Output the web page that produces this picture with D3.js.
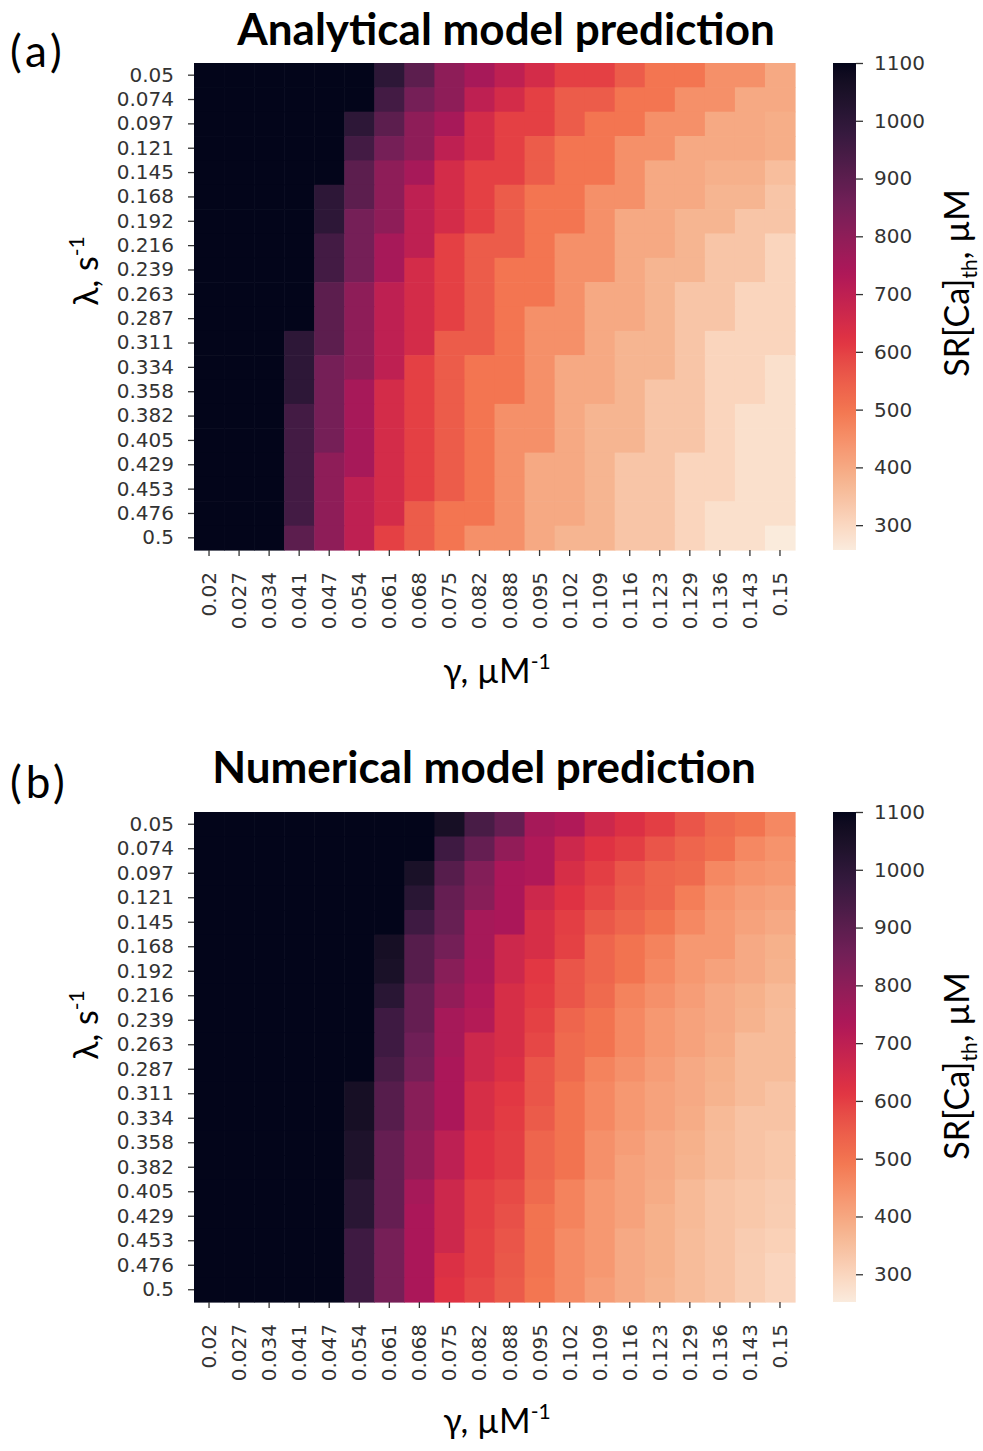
<!DOCTYPE html>
<html>
<head>
<meta charset="utf-8">
<script src="https://cdn.jsdelivr.net/npm/d3@7"></script>
<style>
  body { margin: 0; background: #fff; }
</style>
</head>
<body>
<script>
"use strict";
(function(){
    // tick labels
    const gammaLabels = ["0.02","0.027","0.034","0.041","0.047","0.054","0.061","0.068","0.075","0.082",
        "0.088","0.095","0.102","0.109","0.116","0.123","0.129","0.136","0.143","0.15"]
    const lambdaLabels = ["0.05","0.074","0.097","0.121","0.145","0.168","0.192","0.216","0.239","0.263",
        "0.287","0.311","0.334","0.358","0.382","0.405","0.429","0.453","0.476","0.5"]
    const colorTicks = [300, 400, 500, 600, 700, 800, 900, 1000, 1100]

    // SR[Ca]th, rows = lambda, columns = gamma
    const analytical = [
        [1100,1100,1100,1100,1100,1100,1000,900,800,750,700,650,600,600,550,500,500,450,450,400],
        [1100,1100,1100,1100,1100,1100,950,850,800,700,650,600,550,550,500,500,450,450,400,400],
        [1100,1100,1100,1100,1100,1000,900,800,750,650,600,600,550,500,500,450,450,400,400,390],
        [1100,1100,1100,1100,1100,950,850,800,700,650,600,550,500,500,450,450,400,400,400,390],
        [1100,1100,1100,1100,1100,900,800,750,650,600,600,550,500,500,450,400,400,385,385,355],
        [1100,1100,1100,1100,1000,900,800,700,650,600,550,500,500,450,450,400,400,375,375,340],
        [1100,1100,1100,1100,1000,850,800,700,650,600,550,500,500,450,400,400,375,375,340,340],
        [1100,1100,1100,1100,950,850,750,700,600,550,550,500,450,450,400,400,375,340,340,305],
        [1100,1100,1100,1100,950,850,750,650,600,550,500,500,450,450,400,375,375,340,340,305],
        [1100,1100,1100,1100,900,800,700,650,600,550,500,500,450,400,400,375,340,340,305,305],
        [1100,1100,1100,1100,900,800,700,650,600,550,500,450,450,400,400,375,340,340,305,305],
        [1100,1100,1100,1000,900,800,700,650,550,550,500,450,450,400,375,375,340,305,305,305],
        [1100,1100,1100,1000,850,800,700,600,550,500,500,450,400,400,375,375,340,305,305,282],
        [1100,1100,1100,1000,850,750,650,600,550,500,500,450,400,400,375,340,340,305,305,282],
        [1100,1100,1100,950,850,750,650,600,550,500,450,450,400,375,375,340,340,305,282,282],
        [1100,1100,1100,950,850,750,650,600,550,500,450,450,400,375,375,340,340,305,282,282],
        [1100,1100,1100,950,800,750,650,600,550,500,450,400,400,375,340,340,305,305,282,282],
        [1100,1100,1100,950,800,700,650,600,550,500,450,400,400,375,340,340,305,305,282,282],
        [1100,1100,1100,950,800,700,650,550,500,500,450,400,400,375,340,340,305,282,282,282],
        [1100,1100,1100,900,800,700,600,550,500,450,450,400,375,375,340,340,305,282,282,258]
    ]

    const numerical = [
        [1100,1100,1100,1100,1100,1100,1100,1100,1060,940,880,750,730,665,630,600,560,520,500,460],
        [1100,1100,1100,1100,1100,1100,1100,1100,960,880,790,730,665,620,600,560,530,510,460,440],
        [1100,1100,1100,1100,1100,1100,1100,1050,910,820,740,730,640,600,560,530,520,460,440,430],
        [1100,1100,1100,1100,1100,1100,1100,1010,880,810,740,665,620,585,550,530,480,440,420,410],
        [1100,1100,1100,1100,1100,1100,1100,960,875,750,740,640,600,555,530,500,460,430,410,395],
        [1100,1100,1100,1100,1100,1100,1060,910,850,750,665,640,595,530,500,470,430,430,395,380],
        [1100,1100,1100,1100,1100,1100,1050,910,810,745,665,610,560,530,500,460,430,410,395,375],
        [1100,1100,1100,1100,1100,1100,1010,880,790,730,640,605,560,520,470,445,420,395,380,360],
        [1100,1100,1100,1100,1100,1100,960,880,750,720,640,595,530,500,460,430,410,395,375,355],
        [1100,1100,1100,1100,1100,1100,960,860,750,665,640,585,520,500,460,430,410,390,355,355],
        [1100,1100,1100,1100,1100,1100,940,850,740,665,630,560,520,470,445,420,395,380,355,355],
        [1100,1100,1100,1100,1100,1060,910,810,740,640,610,560,500,460,430,410,395,375,355,340],
        [1100,1100,1100,1100,1100,1060,910,810,740,640,605,550,500,460,430,410,390,360,340,340],
        [1100,1100,1100,1100,1100,1040,880,790,700,620,600,530,500,445,420,395,380,355,340,330],
        [1100,1100,1100,1100,1100,1040,880,790,700,620,600,530,500,445,410,395,375,355,340,330],
        [1100,1100,1100,1100,1100,1010,880,750,665,600,580,520,470,430,410,390,360,340,330,320],
        [1100,1100,1100,1100,1100,1010,880,740,665,600,570,500,470,430,410,380,360,340,330,318],
        [1100,1100,1100,1100,1100,960,845,740,665,595,560,500,455,430,395,380,355,340,320,310],
        [1100,1100,1100,1100,1100,960,845,740,630,595,555,500,455,430,395,380,355,340,318,300],
        [1100,1100,1100,1100,1100,960,845,740,620,585,550,495,455,420,395,375,355,340,318,300]
    ]

    // seaborn "rocket" anchors, dark -> light
    const rocketStops = ["#03051a","#35193e","#701f57","#ad1759","#e13342","#f37651","#f6b48f","#faebdd"]

    const measurements = {
        width: 983,
        height: 1451,
        heatLeft: 194,
        heatRight: 795,
        barLeft: 833,
        barWidth: 23
    }

    const panels = [
        { letter: "(a)", letterY: 67, title: "Analytical model prediction", titleX: 506, titleY: 45,
          data: analytical, top: 63, bottom: 550, vmin: 257,
          yLabelY: 271, barLabelY: 283, xLabelY: 683 },
        { letter: "(b)", letterY: 798, title: "Numerical model prediction", titleX: 484, titleY: 783,
          data: numerical, top: 812, bottom: 1302, vmin: 252,
          yLabelY: 1025, barLabelY: 1066, xLabelY: 1433 }
    ]

    const svgContainer = d3.select('body').append('svg')
        .attr('width', measurements.width)
        .attr('height', measurements.height)
        .style('font-family', 'Lato, sans-serif')

    const defs = svgContainer.append('defs')

    panels.forEach((p, i) => drawPanel(p, i))

    function drawPanel(p, idx) {
        const scaleX = d3.scaleBand()
            .domain(gammaLabels)
            .range([measurements.heatLeft, measurements.heatRight])
        const scaleY = d3.scaleBand()
            .domain(lambdaLabels)
            .range([p.top, p.bottom])
        const color = d3.scaleSequential(d3.piecewise(d3.interpolateLab, rocketStops))
            .domain([1100, p.vmin])
            .clamp(true)

        const cells = p.data.flatMap((row, r) => row.map((v, c) => ({
            g: gammaLabels[c], l: lambdaLabels[r], v: v
        })))

        svgContainer.append('g').selectAll('rect')
            .data(cells)
            .enter()
            .append('rect')
                .attr('x', d => scaleX(d.g))
                .attr('y', d => scaleY(d.l))
                .attr('width', scaleX.bandwidth() + 0.6)
                .attr('height', scaleY.bandwidth() + 0.6)
                .attr('fill', d => color(d.v))

        // axes
        const xAxis = svgContainer.append('g')
            .attr('transform', `translate(0,${p.bottom})`)
            .call(d3.axisBottom(scaleX).tickSize(6))
        xAxis.select('.domain').remove()
        xAxis.selectAll('text')
            .attr('transform', 'rotate(-90)')
            .attr('text-anchor', 'end')
            .attr('x', -22)
            .attr('y', 0)
            .attr('dy', '0.35em')

        const yAxis = svgContainer.append('g')
            .attr('transform', `translate(${measurements.heatLeft},0)`)
            .call(d3.axisLeft(scaleY).tickSize(6).tickPadding(14))
        yAxis.select('.domain').remove()

        styleAxis(xAxis)
        styleAxis(yAxis)

        // colour bar
        const gradId = 'bar' + idx
        const grad = defs.append('linearGradient')
            .attr('id', gradId)
            .attr('x1', 0).attr('y1', 1).attr('x2', 0).attr('y2', 0)
        d3.range(0, 1.0001, 0.02).forEach(t => {
            grad.append('stop')
                .attr('offset', t)
                .attr('stop-color', color(p.vmin + t * (1100 - p.vmin)))
        })
        const scaleBar = d3.scaleLinear()
            .domain([p.vmin, 1100])
            .range([p.bottom, p.top])
        svgContainer.append('rect')
            .attr('x', measurements.barLeft)
            .attr('y', p.top)
            .attr('width', measurements.barWidth)
            .attr('height', p.bottom - p.top)
            .attr('fill', `url(#${gradId})`)
        const barAxis = svgContainer.append('g')
            .attr('transform', `translate(${measurements.barLeft + measurements.barWidth},0)`)
            .call(d3.axisRight(scaleBar).tickValues(colorTicks).tickFormat(d3.format('d'))
                .tickSize(7).tickPadding(11))
        barAxis.select('.domain').remove()
        styleAxis(barAxis)

        // texts
        svgContainer.append('text')
            .attr('x', p.titleX)
            .attr('y', p.titleY)
            .attr('text-anchor', 'middle')
            .attr('font-weight', 700)
            .attr('font-size', 44)
            .attr('fill', '#000')
            .text(p.title)

        svgContainer.append('text')
            .attr('x', 10)
            .attr('y', p.letterY)
            .attr('font-size', 44)
            .attr('letter-spacing', 4)
            .attr('fill', '#000')
            .text(p.letter)

        const xl = svgContainer.append('text')
            .attr('x', 497)
            .attr('y', p.xLabelY)
            .attr('text-anchor', 'middle')
            .attr('font-size', 34)
            .attr('fill', '#000')
        xl.append('tspan').text('γ, µM')
        xl.append('tspan').attr('dy', -14).attr('font-size', 21).text('-1')

        const yl = svgContainer.append('text')
            .attr('transform', `translate(98,${p.yLabelY}) rotate(-90)`)
            .attr('text-anchor', 'middle')
            .attr('font-size', 34)
            .attr('fill', '#000')
        yl.append('tspan').text('λ, s')
        yl.append('tspan').attr('dy', -14).attr('font-size', 21).text('-1')

        const bl = svgContainer.append('text')
            .attr('transform', `translate(969,${p.barLabelY}) rotate(-90)`)
            .attr('text-anchor', 'middle')
            .attr('font-size', 34)
            .attr('fill', '#000')
        bl.append('tspan').text('SR[Ca]')
        bl.append('tspan').attr('dy', 8).attr('font-size', 21).text('th')
        bl.append('tspan').attr('dy', -8).text(', µM')
    }

    function styleAxis(g) {
        g.selectAll('line')
            .attr('stroke', '#333')
            .attr('stroke-width', 1.3)
        g.selectAll('text')
            .attr('fill', '#333')
            .style('font-family', '"DejaVu Sans", sans-serif')
            .style('font-size', '20px')
    }
})()
</script>
</body>
</html>
